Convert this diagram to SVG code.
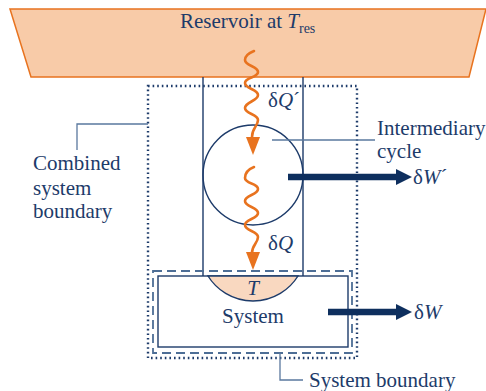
<svg xmlns="http://www.w3.org/2000/svg" width="486" height="391" viewBox="0 0 486 391" font-family="'Liberation Serif', 'Times New Roman', serif" font-size="21">
<style>
.t{font-family:'Liberation Serif','Times New Roman',serif;font-size:21px;fill:#1d3b6a}
.it{font-style:italic}
.navy{fill:none;stroke:#1d3b6a;stroke-width:1.4}
.lead{fill:none;stroke:#5a789e;stroke-width:1.3}
.wave{fill:none;stroke:#e8731f;stroke-width:2.6;stroke-linecap:round}
.ahead{fill:#e8731f}
.work{fill:none;stroke:#0e2f5e;stroke-width:6.5}
.whead{fill:#0e2f5e}
</style>
<rect width="486" height="391" fill="#ffffff"/>
<g id="reservoir">
<polygon points="10,9 486,9 469,77 31,77" fill="#f8cba8" stroke="#e8731f" stroke-width="1.5"/>
<text class="t" x="180" y="28">Reservoir at <tspan class="it">T</tspan><tspan font-size="14" dy="5">res</tspan></text>
</g>
<g id="combined-boundary">
<rect x="148" y="86" width="209" height="272" fill="none" stroke="#1d3b6a" stroke-width="2.4" stroke-dasharray="1.6 3"/>
<path class="lead" d="M77,150 V124 H148"/>
<text class="t" x="33" y="170">Combined</text>
<text class="t" x="33" y="195">system</text>
<text class="t" x="33" y="218">boundary</text>
</g>
<g id="column">
<path class="navy" d="M203,77 V276 M303,77 V276"/>
</g>
<g id="system-boundary">
<rect x="153" y="271" width="199" height="82" fill="none" stroke="#4d6e96" stroke-width="1.8" stroke-dasharray="9 5"/>
<path class="lead" d="M280,353 V380 H303"/>
<text class="t" x="309" y="387">System boundary</text>
</g>
<g id="system">
<rect x="158" y="276" width="190" height="71" class="navy" fill="#ffffff"/>
<path d="M208,276 A53,53 0 0 0 298,276 Z" fill="#f9d8c0" stroke="#1d3b6a" stroke-width="1.4"/>
<text class="t it" x="253" y="295" text-anchor="middle">T</text>
<text class="t" x="253" y="323" text-anchor="middle">System</text>
</g>
<g id="cycle">
<circle cx="253" cy="175" r="50" class="navy"/>
<path class="lead" d="M272,140 H375" stroke="#1d3b6a"/>
<text class="t" x="377" y="135">Intermediary</text>
<text class="t" x="377" y="158">cycle</text>
</g>
<g id="connectors">
<path class="wave" d="M254,51 C249,53 245,56 245,60 C245,66 258,66 258,72 C258,78 245,77 245,83 C245,89 258,89 258,95 C258,101 245,102 245,108 C245,114 258,114 258,120 C258,126 252,128 252,137"/>
<polygon class="ahead" points="246,137 260,137 253,155"/>
<text class="t" x="268" y="107">δ<tspan class="it">Q</tspan>´</text>
<path class="wave" d="M254,167 C249,169 245,173 245,178 C245,184 258,183 258,189 C258,195 245,195 245,201 C245,207 258,207 258,213 C258,219 245,219 245,225 C245,231 258,231 258,237 C258,243 252,245 252,253"/>
<polygon class="ahead" points="246,252 260,252 253,270"/>
<text class="t" x="268" y="250">δ<tspan class="it">Q</tspan></text>
<path class="work" d="M288,177 H398"/>
<polygon class="whead" points="396,169 412,177 396,185"/>
<text class="t" x="413" y="184">δ<tspan class="it">W</tspan>´</text>
<path class="work" d="M328,312 H398"/>
<polygon class="whead" points="396,304 412,312 396,320"/>
<text class="t" x="414" y="319">δ<tspan class="it">W</tspan></text>
</g>
</svg>
